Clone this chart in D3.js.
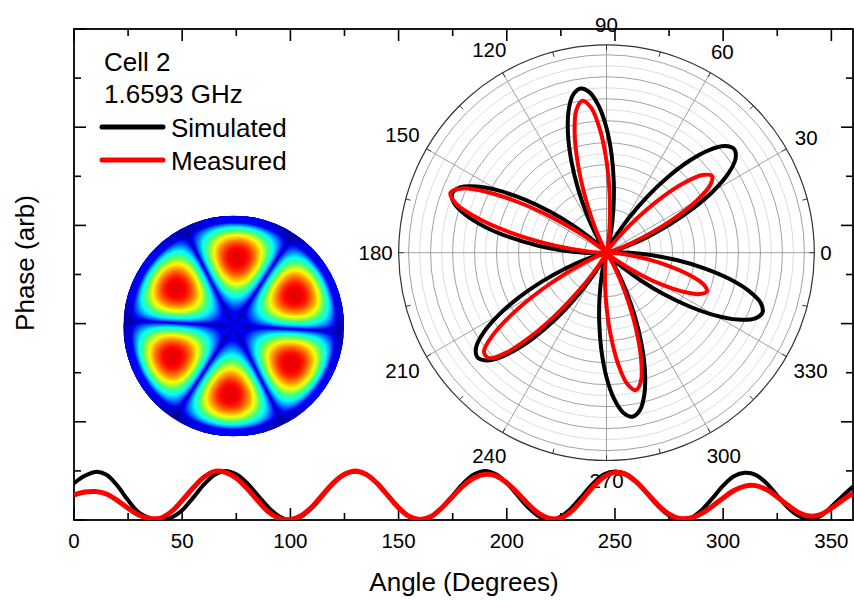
<!DOCTYPE html>
<html>
<head>
<meta charset="utf-8">
<script src="https://cdn.jsdelivr.net/npm/d3@7/dist/d3.min.js"></script>
<style>
  body { margin: 0; background: #fff; }
  text { font-family: "Liberation Sans", Arial, sans-serif; fill: #000; }
</style>
</head>
<body>
<svg id="chart" width="854" height="601"></svg>
<script>
// phase traces along the cavity wall, every 5 degrees
var angles = d3.range(0, 361, 5);
var simulated = [0.75, 0.90, 0.98, 0.92, 0.70, 0.40, 0.15, 0.04, 0.00, 0.05,
  0.20, 0.45, 0.72, 0.92, 1.00, 0.93, 0.75, 0.50, 0.25, 0.07,
  0.00, 0.07, 0.25, 0.50, 0.75, 0.93, 0.99, 0.93, 0.75, 0.50,
  0.25, 0.07, 0.00, 0.07, 0.25, 0.50, 0.75, 0.93, 1.00, 0.93,
  0.75, 0.50, 0.25, 0.07, 0.00, 0.07, 0.25, 0.50, 0.75, 0.93,
  0.99, 0.94, 0.77, 0.53, 0.28, 0.09, 0.01, 0.04, 0.20, 0.44,
  0.70, 0.89, 0.96, 0.92, 0.75, 0.50, 0.25, 0.08, 0.02, 0.08,
  0.27, 0.48, 0.68];
var measured = [0.51, 0.57, 0.58, 0.53, 0.40, 0.24, 0.10, 0.03, 0.04, 0.17,
  0.40, 0.65, 0.87, 0.99, 0.97, 0.85, 0.64, 0.39, 0.16, 0.03,
  0.01, 0.09, 0.27, 0.52, 0.76, 0.93, 1.00, 0.93, 0.75, 0.50,
  0.25, 0.07, 0.01, 0.07, 0.25, 0.48, 0.70, 0.86, 0.93, 0.90,
  0.76, 0.55, 0.32, 0.13, 0.03, 0.04, 0.18, 0.42, 0.68, 0.88,
  0.97, 0.93, 0.77, 0.54, 0.30, 0.12, 0.03, 0.04, 0.13, 0.28,
  0.45, 0.60, 0.69, 0.70, 0.62, 0.47, 0.30, 0.15, 0.08, 0.11,
  0.24, 0.40, 0.55];

// polar field pattern, every 3 degrees (0..357)
var polarAngles = d3.range(0, 360, 3);
var polarSimulated = [1.06, 0.40, 0.07, 0.00, 0.07, 0.40, 1.04, 1.98, 3.14, 4.40,
  5.61, 6.60, 7.25, 7.48, 7.25, 6.60, 5.61, 4.40, 3.14, 1.98,
  1.04, 0.40, 0.07, 0.00, 0.07, 0.40, 1.05, 2.00, 3.18, 4.45,
  5.67, 6.67, 7.33, 7.56, 7.33, 6.67, 5.67, 4.45, 3.18, 2.00,
  1.05, 0.40, 0.07, 0.00, 0.07, 0.40, 1.04, 1.99, 3.16, 4.43,
  5.64, 6.63, 7.29, 7.52, 7.29, 6.63, 5.64, 4.43, 3.16, 1.99,
  1.04, 0.40, 0.07, 0.00, 0.07, 0.40, 1.05, 2.00, 3.18, 4.45,
  5.67, 6.67, 7.33, 7.56, 7.33, 6.67, 5.67, 4.45, 3.18, 2.00,
  1.05, 0.40, 0.07, 0.00, 0.07, 0.40, 1.05, 2.00, 3.17, 4.44,
  5.66, 6.66, 7.32, 7.55, 7.32, 6.66, 5.66, 4.44, 3.17, 2.00,
  1.05, 0.40, 0.07, 0.00, 0.07, 0.40, 1.06, 2.01, 3.20, 4.47,
  5.70, 6.70, 7.37, 7.60, 7.37, 6.70, 5.70, 4.47, 3.20, 2.01];
var polarMeasured = [0.14, 0.02, 0.00, 0.00, 0.03, 0.17, 0.54, 1.25, 2.28, 3.53,
  4.73, 5.61, 5.93, 5.61, 4.73, 3.53, 2.28, 1.25, 0.54, 0.17,
  0.03, 0.00, 0.00, 0.00, 0.00, 0.04, 0.20, 0.64, 1.47, 2.70,
  4.17, 5.59, 6.62, 7.00, 6.62, 5.59, 4.17, 2.70, 1.47, 0.64,
  0.20, 0.04, 0.00, 0.00, 0.00, 0.04, 0.22, 0.70, 1.60, 2.93,
  4.52, 6.06, 7.19, 7.60, 7.19, 6.06, 4.52, 2.93, 1.60, 0.70,
  0.22, 0.04, 0.00, 0.00, 0.00, 0.01, 0.10, 0.39, 1.04, 2.12,
  3.55, 5.09, 6.41, 7.17, 7.17, 6.41, 5.09, 3.55, 2.12, 1.04,
  0.39, 0.10, 0.01, 0.00, 0.00, 0.00, 0.03, 0.18, 0.58, 1.34,
  2.46, 3.80, 5.10, 6.05, 6.39, 6.05, 5.10, 3.80, 2.46, 1.34,
  0.58, 0.18, 0.03, 0.00, 0.00, 0.02, 0.14, 0.45, 1.03, 1.88,
  2.91, 3.90, 4.63, 4.89, 4.63, 3.90, 2.91, 1.88, 1.03, 0.45];

var xTicks = d3.range(0, 351, 50);
var xMinor = d3.range(25, 351, 50);
var yTicks = d3.range(0, 11, 2);
var yMinor = d3.range(1, 10, 2);
var polarLabels = d3.range(0, 360, 30);
var polarRings = d3.range(1, 10, 1);
var polarRingsMinor = d3.range(0.5, 9, 1);

// inset mode picture: 6-lobe mode (order 3), rotated 27 deg
var modeOrder = 3, modeK = 6.77, modeZero = 6.380, modeRotation = 27, modeGamma = 0.6;

var svg = d3.select("#chart");

var margin = { top: 29, right: 1, bottom: 81, left: 74 },
  width = 854 - margin.left - margin.right,
  height = 601 - margin.top - margin.bottom;

var x = d3.scaleLinear().domain([0, 360]).range([0, width]);
var y = d3.scaleLinear().domain([0, 10]).range([height, 0]);

var g = svg.append("g")
  .attr("transform", "translate(" + margin.left + "," + margin.top + ")");

// ---- polar plot ----
var pcx = 606.5, pcy = 252.7, R = 207.8;
var r = d3.scaleLinear().domain([0, 9.45]).range([0, R]);
var ang = d3.scaleLinear().domain([0, 360]).range([Math.PI / 2, Math.PI / 2 - 2 * Math.PI]);

var polar = svg.append("g").attr("transform", "translate(" + pcx + "," + pcy + ")");

polar.append("circle").attr("r", R).attr("fill", "#fff");

polar.selectAll(".ringMinor")
  .data(polarRingsMinor)
  .enter().append("circle")
  .attr("r", d => r(d))
  .attr("fill", "none")
  .attr("stroke", "#d4d4d4")
  .attr("stroke-width", 0.8);

polar.selectAll(".ring")
  .data(polarRings)
  .enter().append("circle")
  .attr("r", d => r(d))
  .attr("fill", "none")
  .attr("stroke", "#8a8a8a")
  .attr("stroke-width", 0.8);

polar.selectAll(".spoke")
  .data(polarLabels)
  .enter().append("line")
  .attr("x1", 0).attr("y1", 0)
  .attr("x2", d => R * Math.cos(d * Math.PI / 180))
  .attr("y2", d => -R * Math.sin(d * Math.PI / 180))
  .attr("stroke", "#8a8a8a")
  .attr("stroke-width", 0.8);

polar.selectAll(".ptick")
  .data(d3.range(0, 360, 15))
  .enter().append("line")
  .attr("x1", d => R * Math.cos(d * Math.PI / 180))
  .attr("y1", d => -R * Math.sin(d * Math.PI / 180))
  .attr("x2", d => (R - 5) * Math.cos(d * Math.PI / 180))
  .attr("y2", d => -(R - 5) * Math.sin(d * Math.PI / 180))
  .attr("stroke", "#333")
  .attr("stroke-width", 1);

polar.append("circle").attr("r", R)
  .attr("fill", "none").attr("stroke", "#333").attr("stroke-width", 1.2);

function labelRadius(d) {
  var a = d * Math.PI / 180;
  var half = String(d).length * 5.7;
  return R + 6 + half * Math.abs(Math.cos(a)) + 14 * Math.abs(Math.sin(a));
}

polar.selectAll(".plabel")
  .data(polarLabels)
  .enter().append("text")
  .text(d => d)
  .attr("x", d => labelRadius(d) * Math.cos(d * Math.PI / 180))
  .attr("y", d => -labelRadius(d) * Math.sin(d * Math.PI / 180))
  .attr("dy", "0.35em")
  .attr("text-anchor", "middle")
  .style("font-size", "20.5px");

var radial = d3.lineRadial()
  .angle((d, i) => ang(polarAngles[i]))
  .radius(d => r(d))
  .curve(d3.curveCatmullRomClosed);

polar.append("path")
  .datum(polarSimulated)
  .attr("d", radial)
  .attr("fill", "none")
  .attr("stroke", "#000")
  .attr("stroke-width", 4)
  .attr("stroke-linejoin", "round");

polar.append("path")
  .datum(polarMeasured)
  .attr("d", radial)
  .attr("fill", "none")
  .attr("stroke", "#ff0000")
  .attr("stroke-width", 4)
  .attr("stroke-linejoin", "round");

// ---- inset mode picture ----
function besselJ(n, z) {
  var f = 1;
  for (var i = 2; i <= n; i++) f *= i;
  var t = Math.pow(z / 2, n) / f, s = t;
  for (var k = 0; k < 40; k++) {
    t *= -(z * z / 4) / ((k + 1) * (k + 1 + n));
    s += t;
  }
  return s;
}

var icx = 233.7, icy = 326, iR = 110.3, n = 220;
var jmax = d3.max(d3.range(3, 5.5, 0.005), z => besselJ(modeOrder, z));
var field = new Array(n * n);
for (var j = 0; j < n; j++) {
  for (var i = 0; i < n; i++) {
    var px = -1 + 2 * (i + 0.5) / n, py = 1 - 2 * (j + 0.5) / n;
    var rr = Math.sqrt(px * px + py * py);
    var phi = Math.atan2(py, px) - modeRotation * Math.PI / 180;
    var rad = modeK * rr < modeZero ? besselJ(modeOrder, modeK * rr) / jmax : 0;
    var az = Math.abs(Math.cos(modeOrder * phi));
    field[j * n + i] = rr <= 1.03 ? Math.pow(Math.max(rad, 0.03) * az, modeGamma) : 0;
  }
}

var jet = d3.scaleLinear()
  .domain([0, 0.13, 0.4, 0.55, 0.7, 0.95, 1])
  .range(["#00009a", "#0000ff", "#00ffff", "#50ff70", "#ffff00", "#ff0000", "#e00000"])
  .interpolate(d3.interpolateRgb);

var step = 1 / 36;
var levels = d3.range(0, 1, step);
var contours = d3.contours().size([n, n]).thresholds(levels)(field);

svg.append("clipPath").attr("id", "insetClip")
  .append("circle").attr("cx", icx).attr("cy", icy).attr("r", iR);

var inset = svg.append("g").attr("clip-path", "url(#insetClip)");
inset.append("circle").attr("cx", icx).attr("cy", icy).attr("r", iR).attr("fill", jet(0));
inset.selectAll("path")
  .data(contours)
  .enter().append("path")
  .attr("d", d3.geoPath(d3.geoIdentity().scale(2 * iR / n).translate([icx - iR, icy - iR])))
  .attr("fill", d => jet(Math.min(1, d.value + step / 2)));

// ---- phase traces ----
svg.append("clipPath").attr("id", "plotClip")
  .append("rect").attr("x", margin.left).attr("y", margin.top)
  .attr("width", width).attr("height", height);

var line = d3.line()
  .x((d, i) => x(angles[i]))
  .y(d => y(d))
  .curve(d3.curveCatmullRom);

var traces = svg.append("g")
  .attr("clip-path", "url(#plotClip)")
  .append("g")
  .attr("transform", "translate(" + margin.left + "," + margin.top + ")");

traces.append("path")
  .datum(simulated)
  .attr("d", line)
  .attr("fill", "none")
  .attr("stroke", "#000")
  .attr("stroke-width", 4);

traces.append("path")
  .datum(measured)
  .attr("d", line)
  .attr("fill", "none")
  .attr("stroke", "#ff0000")
  .attr("stroke-width", 5);

// ---- frame and ticks ----
var frame = g.append("g");
function tickSet(vals, len, side) {
  frame.selectAll(null)
    .data(vals)
    .enter().append("line")
    .attr("x1", d => side == "bottom" || side == "top" ? x(d) : (side == "left" ? 0 : width))
    .attr("x2", d => side == "bottom" || side == "top" ? x(d) : (side == "left" ? len : width - len))
    .attr("y1", d => side == "left" || side == "right" ? y(d) : (side == "bottom" ? height : 0))
    .attr("y2", d => side == "left" || side == "right" ? y(d) : (side == "bottom" ? height - len : len))
    .attr("stroke", "#000")
    .attr("stroke-width", 1.6);
}
["bottom", "top"].forEach(s => { tickSet(xTicks, 12, s); tickSet(xMinor, 7, s); });
["left", "right"].forEach(s => { tickSet(yTicks, 12, s); tickSet(yMinor, 7, s); });

frame.append("rect")
  .attr("width", width).attr("height", height)
  .attr("fill", "none").attr("stroke", "#000").attr("stroke-width", 1.8);

g.selectAll(".xlabel")
  .data(xTicks)
  .enter().append("text")
  .text(d => d)
  .attr("x", d => x(d))
  .attr("y", height + 28.3)
  .attr("text-anchor", "middle")
  .style("font-size", "20.5px");

svg.append("text")
  .text("Angle (Degrees)")
  .attr("x", 464).attr("y", 591)
  .attr("text-anchor", "middle")
  .style("font-size", "26px");

svg.append("text")
  .text("Phase (arb)")
  .attr("transform", "translate(33.5,263) rotate(-90)")
  .attr("text-anchor", "middle")
  .style("font-size", "26px");

// ---- legend ----
var legend = svg.append("g");
legend.append("text").text("Cell 2").attr("x", 104).attr("y", 71).style("font-size", "26px");
legend.append("text").text("1.6593 GHz").attr("x", 104).attr("y", 103.3).style("font-size", "26px");
var series = [{ name: "Simulated", color: "#000", y: 127 }, { name: "Measured", color: "#ff0000", y: 160 }];
legend.selectAll(".lline")
  .data(series)
  .enter().append("line")
  .attr("x1", 102).attr("x2", 163)
  .attr("y1", d => d.y).attr("y2", d => d.y)
  .attr("stroke", d => d.color)
  .attr("stroke-width", 5)
  .attr("stroke-linecap", "round");
legend.selectAll(".ltext")
  .data(series)
  .enter().append("text")
  .text(d => d.name)
  .attr("x", 171)
  .attr("y", d => d.y + 9.5)
  .style("font-size", "26px");
</script>
</body>
</html>
